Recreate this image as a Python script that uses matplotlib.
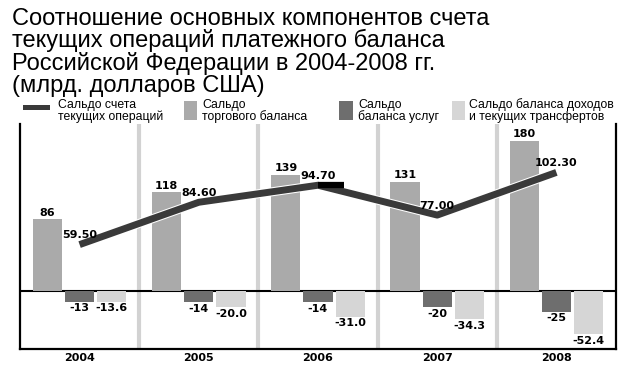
import numpy as np
import matplotlib
matplotlib.use("Agg")
import matplotlib.pyplot as plt
from matplotlib.patches import Rectangle
import matplotlib.patheffects as pe

years = ["2004", "2005", "2006", "2007", "2008"]
current_account = [59.50, 84.60, 94.70, 77.00, 102.30]
trade = [86, 118, 139, 131, 180]
services = [-13, -14, -14, -20, -25]
transfers = [-13.6, -20.0, -31.0, -34.3, -52.4]

title_lines = ["Соотношение основных компонентов счета",
               "текущих операций платежного баланса",
               "Российской Федерации в 2004-2008 гг.",
               "(млрд. долларов США)"]
legend_labels = ["Сальдо счета\nтекущих операций",
                 "Сальдо\nторгового баланса",
                 "Сальдо\nбаланса услуг",
                 "Сальдо баланса доходов\nи текущих трансфертов"]

c_line = "#3a3a3a"
c_trade = "#aaaaaa"
c_serv = "#6e6e6e"
c_trans = "#d6d6d6"
c_sep = "#d2d2d2"

W, H = 626, 369
fig = plt.figure(figsize=(W / 100, H / 100), dpi=100)
ax = fig.add_axes([20 / W, (H - 349) / H, 596 / W, 225 / H])

x = np.arange(len(years))
bw = 0.245
off = 0.27

ax.set_xlim(-0.5, len(years) - 0.5)
ax.set_ylim(-70, 200)

for s in x[:-1]:
    ax.axvline(s + 0.5, color=c_sep, lw=3, zorder=1)
ax.axhline(0, color="black", lw=1.5, zorder=2)

ax.bar(x - off, trade, bw, color=c_trade, zorder=3)
ax.bar(x, services, bw, color=c_serv, zorder=3)
ax.bar(x + off, transfers, bw, color=c_trans, zorder=3)

lab = dict(fontsize=8, fontweight="bold", family="DejaVu Sans", ha="center")
for i in x:
    ax.annotate(f"{trade[i]}", (x[i] - off, trade[i]), xytext=(0, 1),
                textcoords="offset points", va="bottom", **lab)
    ax.annotate(f"{services[i]}", (x[i], services[i]), xytext=(0, -1),
                textcoords="offset points", va="top", **lab)
    ax.annotate(f"{transfers[i]:.1f}", (x[i] + off, transfers[i]), xytext=(0, -1),
                textcoords="offset points", va="top", **lab)

ax.spines["top"].set_visible(False)
for side in ["left", "right", "bottom"]:
    ax.spines[side].set_linewidth(1.6)
ax.set_yticks([])
ax.set_xticks(x)
ax.set_xticklabels(years, fontsize=8, fontweight="bold", family="DejaVu Sans")
ax.tick_params(axis="x", length=0, pad=3)

# current account line has its own scale
ax2 = ax.twinx()
ax2.set_ylim(-2.4, 131)
ax2.axis("off")
ax2.plot(x, current_account, color=c_line, lw=5, solid_capstyle="butt", zorder=5,
         path_effects=[pe.Stroke(linewidth=6.5, foreground="white"), pe.Normal()])
ax2.plot([x[2], x[2] + 0.22], [current_account[2]] * 2, color="black", lw=4.5,
         solid_capstyle="butt", zorder=6)
for i in x:
    ax2.annotate(f"{current_account[i]:.2f}", (x[i], current_account[i]), xytext=(0, 3),
                 textcoords="offset points", va="bottom", zorder=7, **lab)

# title
for k, t in enumerate(title_lines):
    fig.text(12 / W, 1 - (25 + 22.3 * k) / H, t, fontsize=17, family="Liberation Sans",
             va="baseline", ha="left")

# legend
swatches = [(23, 105, 27, 5, c_line), (184, 101, 13, 19, c_trade),
            (339, 101, 14, 19, c_serv), (452, 101, 13, 19, c_trans)]
text_x = [58, 202, 358, 469]
for (sx, sy, sw, sh, col), tx, t in zip(swatches, text_x, legend_labels):
    fig.add_artist(Rectangle((sx / W, 1 - (sy + sh) / H), sw / W, sh / H,
                             transform=fig.transFigure, color=col, lw=0))
    for j, ln in enumerate(t.split("\n")):
        fig.text(tx / W, 1 - (108 + 12.5 * j) / H, ln, fontsize=8.8,
                 family="Liberation Sans", va="baseline", ha="left")

fig.savefig("out.png", dpi=100)
